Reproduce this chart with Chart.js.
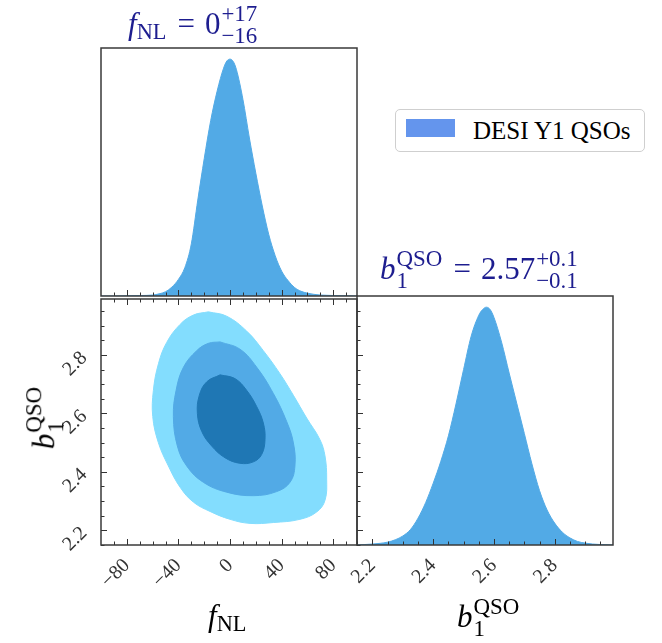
<!DOCTYPE html>
<html>
<head>
<meta charset="utf-8">
<script src="https://cdn.jsdelivr.net/npm/chart.js@4.4.1/dist/chart.umd.min.js"></script>
<style>
  html, body { margin: 0; padding: 0; background: #fff; }
  #wrap { position: relative; width: 662px; height: 643px; overflow: hidden; font-family: 'Liberation Serif', serif; }
  canvas { position: absolute; }
  .lab { position: absolute; white-space: nowrap; color: #000; font-size: 31px; line-height: 1; }
  .ttl { color: #1d1d8f; font-size: 31px; }
  .sb { font-size: 0.72em; position: relative; top: 0.22em; }
  .ss { display: inline-block; vertical-align: -0.38em; font-size: 0.74em; line-height: 0.95; text-align: left; margin-left: 1px; }
  .ss span { display: block; }
  .eq { margin: 0 0.32em 0 0.36em; }
  #legend { position: absolute; left: 395px; top: 109px; width: 248px; height: 41px; border: 1px solid #cfcfcf; border-radius: 5px; background: #fff; }
  #legend .patch { position: absolute; left: 10px; top: 9px; width: 49px; height: 18px; background: #6495ED; }
  #legend .txt { position: absolute; left: 77px; top: 8px; font-size: 25px; line-height: 1; }
</style>
</head>
<body>
<div id="wrap">
  <canvas id="fnlChart" width="320" height="300" style="left:60px;top:20px"></canvas>
  <canvas id="pairChart" width="380" height="373" style="left:0px;top:270px"></canvas>
  <canvas id="b1Chart" width="362" height="373" style="left:300px;top:270px"></canvas>

  <div class="lab ttl" style="left:128px;top:3px"><i>f</i><span class="sb">NL</span><span class="eq">=</span>0<span class="ss"><span>+17</span><span>−16</span></span></div>
  <div class="lab ttl" style="left:380px;top:248px"><i>b</i><span class="ss"><span>QSO</span><span>1</span></span><span class="eq">=</span>2.57<span class="ss"><span>+0.1</span><span>−0.1</span></span></div>

  <div class="lab" style="left:208px;top:600px"><i>f</i><span class="sb">NL</span></div>
  <div class="lab" style="left:457px;top:596px"><i>b</i><span class="ss"><span>QSO</span><span>1</span></span></div>
  <div class="lab" style="left:45px;top:418px;transform:translate(-50%,-50%) rotate(-90deg)"><i>b</i><span class="ss"><span>QSO</span><span>1</span></span></div>

  <div id="legend"><div class="patch"></div><div class="txt" id="legendText"></div></div>
</div>
<script>
// marginal of f_NL (peak normalised to 1)
const fnlGrid = [-100, -90, -80, -70, -60, -55, -50, -45, -40, -35, -30, -25, -20, -15, -10, -5, -2.5, 0, 2.5, 5, 10, 15,
  20, 25, 30, 35, 40, 45, 50, 55, 60, 65, 70, 75, 80, 90, 98];
const fnlDensity = [0, 0, 0.001, 0.002, 0.004, 0.009, 0.018, 0.038, 0.07, 0.12, 0.22, 0.405, 0.58, 0.74, 0.865, 0.962, 0.992, 1, 0.99, 0.955, 0.83, 0.667,
  0.518, 0.38, 0.26, 0.17, 0.105, 0.065, 0.036, 0.02, 0.012, 0.007, 0.004, 0.003, 0.002, 0.001, 0];

// marginal of b1^QSO
const b1Grid = [2.15, 2.175, 2.2, 2.225, 2.25, 2.275, 2.3, 2.325, 2.35, 2.375, 2.4, 2.425, 2.45, 2.475, 2.5, 2.525, 2.55, 2.5625,
  2.575, 2.5875, 2.6, 2.625, 2.65, 2.675, 2.7, 2.725, 2.75, 2.775, 2.8, 2.825, 2.85, 2.875, 2.9, 2.925, 2.95, 2.992];
const b1Density = [0, 0.002, 0.004, 0.007, 0.012, 0.022, 0.038, 0.065, 0.113, 0.178, 0.26, 0.352, 0.459, 0.593, 0.738, 0.878, 0.966, 0.99,
  1.0, 0.99, 0.957, 0.853, 0.723, 0.596, 0.469, 0.341, 0.229, 0.147, 0.092, 0.054, 0.03, 0.015, 0.008, 0.004, 0.002, 0];

// 2D contours (f_NL, b1)
const outerFnl = [-16.8, -2.6, 12.9, 25.8, 38.7, 49.1, 59.4, 69.7, 73.6, 74.9, 73.6, 67.1, 54.2, 33.6, 15.5, 0, -15.5, -28.4, -38.7, -47.8, -55.5, -59.9, -59.4, -55.5, -49.1, -38.7, -28.4];
const outerB1 = [2.948, 2.933, 2.882, 2.815, 2.736, 2.662, 2.584, 2.510, 2.454, 2.375, 2.302, 2.262, 2.237, 2.226, 2.223, 2.237, 2.264, 2.296, 2.347, 2.420, 2.499, 2.589, 2.679, 2.770, 2.843, 2.905, 2.937];
const middleFnl = [-7.7, 7.7, 20.7, 33.6, 43.9, 49.1, 50.3, 46.5, 36.1, 18.1, -2.6, -20.7, -33.6, -40.8, -43.9, -41.8, -36.1, -25.8, -16.8];
const middleB1 = [2.845, 2.820, 2.758, 2.668, 2.572, 2.499, 2.420, 2.364, 2.332, 2.318, 2.330, 2.364, 2.420, 2.488, 2.589, 2.679, 2.758, 2.815, 2.840];
const innerFnl = [-7.7, 3.9, 12.9, 20.7, 25.8, 27.1, 24.5, 18.1, 7.7, -3.9, -14.2, -21.9, -25.3, -23.8, -18.1];
const innerB1 = [2.732, 2.719, 2.679, 2.623, 2.567, 2.510, 2.459, 2.434, 2.429, 2.448, 2.488, 2.538, 2.600, 2.662, 2.708];

// ticks
const fnlMajorTicks = [-80, -40, 0, 40, 80];
const fnlMinorTicks = [-90, -80, -70, -60, -50, -40, -30, -20, -10, 0, 10, 20, 30, 40, 50, 60, 70, 80, 90];
const b1MajorTicks = [2.2, 2.4, 2.6, 2.8];
const b1MinorTicks = [2.15, 2.2, 2.25, 2.3, 2.35, 2.4, 2.45, 2.5, 2.55, 2.6, 2.65, 2.7, 2.75, 2.8, 2.85, 2.9, 2.95];

const chainLabel = 'DESI Y1 QSOs';
document.getElementById('legendText').textContent = chainLabel;

Chart.defaults.font.family = '"Liberation Serif", serif';
Chart.defaults.animation = false;

const isIn = (list, v) => list.some(m => Math.abs(m - v) < 1e-6);
const fmtFnl = v => (v < 0 ? '\u2212' + Math.abs(v) : String(v));

// frame + inward tick marks
const framePlugin = {
  id: 'frame',
  afterDraw(chart, args, opts) {
    const { ctx, chartArea: a } = chart;
    ctx.save();
    ctx.strokeStyle = '#333';
    ctx.lineWidth = 1;
    (opts.marks || []).forEach(m => {
      const scale = chart.scales[m.scale];
      scale.ticks.forEach(t => {
        const len = (isIn(m.major, t.value) ? 6 : 3.5) * m.dir;
        const p = Math.round(scale.getPixelForValue(t.value)) + 0.5;
        ctx.beginPath();
        if (m.edge === 'bottom') { ctx.moveTo(p, a.bottom); ctx.lineTo(p, a.bottom - len); }
        if (m.edge === 'top') { ctx.moveTo(p, a.top); ctx.lineTo(p, a.top + len); }
        if (m.edge === 'left') { ctx.moveTo(a.left, p); ctx.lineTo(a.left + len, p); }
        if (m.edge === 'right') { ctx.moveTo(a.right, p); ctx.lineTo(a.right - len, p); }
        ctx.stroke();
      });
    });
    ctx.lineWidth = 1.5;
    ctx.strokeStyle = '#3a3a3a';
    ctx.strokeRect(a.left, a.top, a.right - a.left, a.bottom - a.top);
    ctx.restore();
  }
};

const hiddenAxis = (extra, horizontal) => Object.assign({
  type: 'linear',
  ticks: { display: false },
  grid: { display: false, drawTicks: false },
  border: { display: false },
  afterFit: s => { if (horizontal) s.height = 0; else s.width = 0; }
}, extra);

const tickFont = { family: '"Liberation Serif", serif', size: 20 };

// top-left: f_NL marginal
const fnlChart = new Chart(document.getElementById('fnlChart'), {
  type: 'line',
  data: {
    datasets: [{
      data: fnlGrid.map((x, i) => ({ x, y: fnlDensity[i] })),
      fill: 'origin',
      backgroundColor: '#52AAE6',
      borderColor: '#52AAE6',
      borderWidth: 1,
      pointRadius: 0,
      cubicInterpolationMode: 'monotone'
    }]
  },
  options: {
    responsive: false,
    layout: { padding: { left: 41, top: 28, right: 23, bottom: 24 } },
    plugins: {
      legend: { display: false }, tooltip: { enabled: false },
      frame: { marks: [{ scale: 'x', edge: 'bottom', dir: 1, major: fnlMajorTicks }] }
    },
    scales: {
      x: hiddenAxis({ min: -100, max: 98.4, afterBuildTicks: ax => { ax.ticks = fnlMinorTicks.map(value => ({ value })); } }, true),
      y: hiddenAxis({ min: 0, max: 1.047 }, false)
    }
  },
  plugins: [framePlugin]
});

// bottom-left: 2D contours
const loop = (xs, ys) => xs.concat([xs[0]]).map((x, i) => ({ x, y: ys.concat([ys[0]])[i] }));
const contourSet = (xs, ys, color) => ({
  data: loop(xs, ys),
  fill: 'shape',
  backgroundColor: color,
  borderColor: color,
  borderWidth: 1,
  pointRadius: 0,
  tension: 0.4
});

const pairChart = new Chart(document.getElementById('pairChart'), {
  type: 'line',
  data: {
    datasets: [
      contourSet(innerFnl, innerB1, '#1F77B4'),
      contourSet(middleFnl, middleB1, '#52AAE6'),
      contourSet(outerFnl, outerB1, '#83DDFE')
    ]
  },
  options: {
    responsive: false,
    layout: { padding: { left: 0, top: 26, right: 23, bottom: 0 } },
    plugins: {
      legend: { display: false }, tooltip: { enabled: false },
      frame: {
        marks: [
          { scale: 'x', edge: 'bottom', dir: 1, major: fnlMajorTicks },
          { scale: 'x', edge: 'top', dir: 1, major: fnlMajorTicks },
          { scale: 'y', edge: 'left', dir: 1, major: b1MajorTicks },
          { scale: 'y', edge: 'right', dir: -1, major: b1MajorTicks }
        ]
      }
    },
    scales: {
      x: {
        type: 'linear', min: -100, max: 98.4,
        afterBuildTicks: ax => { ax.ticks = fnlMinorTicks.map(value => ({ value })); },
        afterFit: s => { s.height = 98; },
        grid: { display: false, drawTicks: false },
        border: { display: false },
        ticks: {
          autoSkip: false, minRotation: 45, maxRotation: 45, padding: 9,
          color: '#333', font: tickFont,
          callback: v => (isIn(fnlMajorTicks, v) ? fmtFnl(v) : '')
        }
      },
      y: {
        type: 'linear', min: 2.149, max: 2.992,
        afterBuildTicks: ax => { ax.ticks = b1MinorTicks.map(value => ({ value })); },
        afterFit: s => { s.width = 101; },
        grid: { display: false, drawTicks: false },
        border: { display: false },
        ticks: {
          autoSkip: false, minRotation: 45, maxRotation: 45, padding: 17,
          color: '#333', font: tickFont,
          callback: v => (isIn(b1MajorTicks, v) ? v.toFixed(1) : '')
        }
      }
    }
  },
  plugins: [framePlugin]
});

// bottom-right: b1 marginal
const b1Chart = new Chart(document.getElementById('b1Chart'), {
  type: 'line',
  data: {
    datasets: [{
      data: b1Grid.map((x, i) => ({ x, y: b1Density[i] })),
      fill: 'origin',
      backgroundColor: '#52AAE6',
      borderColor: '#52AAE6',
      borderWidth: 1,
      pointRadius: 0,
      cubicInterpolationMode: 'monotone'
    }]
  },
  options: {
    responsive: false,
    layout: { padding: { left: 57, top: 26, right: 49, bottom: 0 } },
    plugins: {
      legend: { display: false }, tooltip: { enabled: false },
      frame: { marks: [{ scale: 'x', edge: 'bottom', dir: 1, major: b1MajorTicks }] }
    },
    scales: {
      x: {
        type: 'linear', min: 2.149, max: 2.992,
        afterBuildTicks: ax => { ax.ticks = b1MinorTicks.map(value => ({ value })); },
        afterFit: s => { s.height = 98; },
        grid: { display: false, drawTicks: false },
        border: { display: false },
        ticks: {
          autoSkip: false, minRotation: 45, maxRotation: 45, padding: 9,
          color: '#333', font: tickFont,
          callback: v => (isIn(b1MajorTicks, v) ? v.toFixed(1) : '')
        }
      },
      y: hiddenAxis({ min: 0, max: 1.047 }, false)
    }
  },
  plugins: [framePlugin]
});

// redraw once the serif face is surely available to the canvas
if (document.fonts && document.fonts.load) {
  document.fonts.load('20px "Liberation Serif"').then(() => {
    [fnlChart, pairChart, b1Chart].forEach(c => c.update());
  });
}
</script>
</body>
</html>
